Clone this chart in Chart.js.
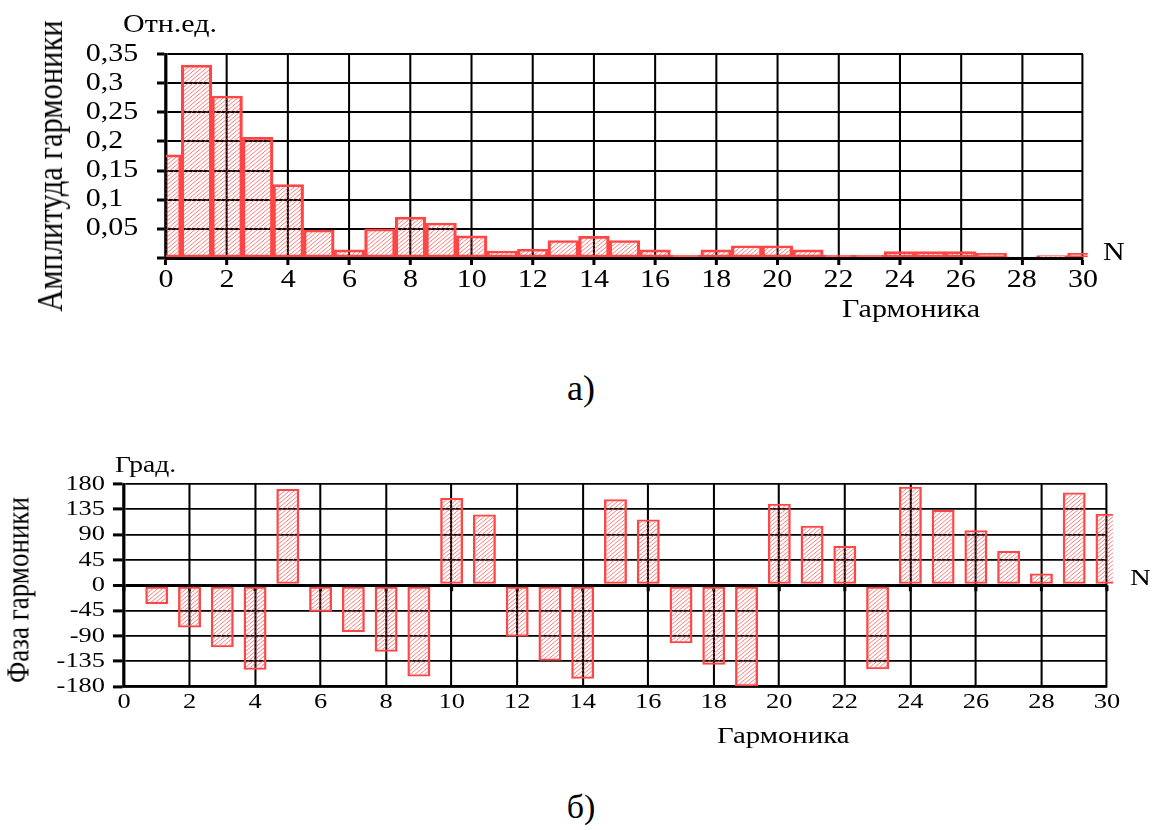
<!DOCTYPE html>
<html><head><meta charset="utf-8">
<script src="https://cdn.jsdelivr.net/npm/chart.js@4"></script>
<style>
html,body{margin:0;padding:0;background:#fff;}
body{width:1157px;height:830px;position:relative;overflow:hidden;font-family:'Liberation Serif','Times New Roman',serif;color:#000;}
canvas{position:absolute;left:0;}
.t{position:absolute;white-space:nowrap;line-height:1;}
</style></head><body>
<canvas id="c1" style="top:0px"></canvas>
<canvas id="c2" style="top:440px"></canvas>
<script>
// ---- data ----
const harmonics = [0,1,2,3,4,5,6,7,8,9,10,11,12,13,14,15,16,17,18,19,20,21,22,23,24,25,26,27,28,29,30];
const amplitude = [0.177,0.331,0.278,0.207,0.126,0.048,0.014,0.050,0.070,0.060,0.038,0.012,0.015,0.030,0.037,0.030,0.014,0.005,0.014,0.021,0.021,0.014,0.005,0.005,0.011,0.011,0.011,0.008,0.002,0.004,0.008];
const phaseHarmonics = [1,2,3,4,5,6,7,8,9,10,11,12,13,14,15,16,17,18,19,20,21,22,23,24,25,26,27,28,29,30];
const phase = [-33,-75,-110,-150,171,-47,-83,-118,-162,155,126,-91,-134,-166,153,117,-103,-141,-179,145,106,70,-149,175,134,98,61,21,165,127];
const harmonicTicks = [0,2,4,6,8,10,12,14,16,18,20,22,24,26,28,30];
const amplitudeTicks = [0,0.05,0.1,0.15,0.2,0.25,0.3,0.35];
const amplitudeTickLabels = ['','0,05','0,1','0,15','0,2','0,25','0,3','0,35'];
const phaseTicks = [-180,-135,-90,-45,0,45,90,135,180];
const phaseTickLabels = ['-180','-135','-90','-45','0','45','90','135','180'];

const FONT = "'Liberation Serif','Times New Roman',serif";
const W = 1157, LW = 964, S = W / LW;
const RED = '#ff4646';

function hatch() {
  const c = document.createElement('canvas'); c.width = c.height = 8;
  const g = c.getContext('2d');
  g.strokeStyle = 'rgba(255,70,70,0.7)'; g.lineWidth = 1;
  g.beginPath();
  for (let k = -8; k <= 16; k += 4) { g.moveTo(k, 8); g.lineTo(k + 8, 0); }
  g.stroke();
  return g.createPattern(c, 'repeat');
}

const stretch = { id: 'stretch', beforeDraw(c) { c.ctx.setTransform(S, 0, 0, 1, 0, 0); } };
const zeroTicks = { id: 'zeroTicks', beforeDatasetsDraw(c) {
  const ctx = c.ctx, x = c.scales.x, y = c.scales.y;
  const y0 = y.getPixelForValue(0);
  ctx.save(); ctx.strokeStyle = '#000'; ctx.lineWidth = 2.5; ctx.beginPath();
  harmonicTicks.forEach(v => { const px = x.getPixelForValue(v); ctx.moveTo(px, y0); ctx.lineTo(px, y0 + 6); });
  ctx.stroke(); ctx.restore();
}};

function makeChart(id, H, config) {
  const cv = document.getElementById(id);
  cv.width = LW; cv.height = H;
  cv.style.width = LW + 'px'; cv.style.height = H + 'px';
  const ch = new Chart(cv, config);
  cv.width = W; cv.style.width = W + 'px';
  ch.draw();
  return ch;
}

const common = { responsive: false, animation: false, events: [], devicePixelRatio: 1,
  plugins: { legend: { display: false }, tooltip: { enabled: false } } };

makeChart('c1', 340, {
  type: 'bar',
  data: { datasets: [{
    data: harmonics.map((n, i) => ({ x: n, y: amplitude[i] })),
    backgroundColor: hatch(), borderColor: RED, borderWidth: 2, borderSkipped: false,
    barPercentage: 1, categoryPercentage: 1, clip: { left: 0, top: 5, right: 4, bottom: 5 }
  }]},
  options: Object.assign({}, common, {
    layout: { padding: { left: 71.4, top: 54, right: 61.7, bottom: 0 } },
    scales: {
      x: { type: 'linear', min: 0, max: 30, offset: false,
        afterBuildTicks(s) { s.ticks = harmonicTicks.map(v => ({ value: v })); },
        afterFit(s) { s.height = 82; },
        grid: { offset: false, color: '#000', lineWidth: 1.7, drawTicks: true, tickLength: 7, tickWidth: 2.5, tickColor: '#000' },
        border: { display: true, color: '#000', width: 3 },
        ticks: { color: '#000', font: { family: FONT, size: 25 }, padding: 0, maxRotation: 0, autoSkip: false,
          callback: (v, i) => String(harmonicTicks[i]) } },
      y: { min: 0, max: 0.35,
        afterBuildTicks(s) { s.ticks = amplitudeTicks.map(v => ({ value: v })); },
        afterFit(s) { s.width = 66.9; },
        grid: { color: '#000', lineWidth: 2, tickLength: 7.5, tickWidth: 3, tickColor: '#000' },
        border: { display: true, color: '#000', width: 2.5 },
        ticks: { color: '#000', font: { family: FONT, size: 25 }, padding: 16.6, autoSkip: false, crossAlign: 'far',
          callback: (v, i) => amplitudeTickLabels[i] } }
    }
  }),
  plugins: [stretch]
});

makeChart('c2', 290, {
  type: 'bar',
  data: { datasets: [{
    data: phaseHarmonics.map((n, i) => ({ x: n, y: phase[i] })),
    backgroundColor: hatch(), borderColor: RED, borderWidth: 2, borderSkipped: false,
    barPercentage: 0.7, categoryPercentage: 1, clip: { left: 0, top: 5, right: 5, bottom: 5 }
  }]},
  options: Object.assign({}, common, {
    layout: { padding: { left: 0, top: 44, right: 41.7, bottom: 0 } },
    scales: {
      x: { type: 'linear', min: 0, max: 30, offset: false,
        afterBuildTicks(s) { s.ticks = harmonicTicks.map(v => ({ value: v })); },
        afterFit(s) { s.height = 43.3; },
        grid: { offset: false, color: '#000', lineWidth: 1.7, drawTicks: false },
        border: { display: true, color: '#000', width: 2.5 },
        ticks: { color: '#000', font: { family: FONT, size: 22 }, padding: 2, maxRotation: 0, autoSkip: false,
          callback: (v, i) => String(harmonicTicks[i]) } },
      y: { min: -180, max: 180,
        afterBuildTicks(s) { s.ticks = phaseTicks.map(v => ({ value: v })); },
        afterFit(s) { s.width = 103.3; },
        grid: { color: '#000', lineWidth: c => (c.tick && c.tick.value === 0 ? 3 : 1.8), tickLength: 9.2, tickWidth: 3, tickColor: '#000' },
        border: { display: true, color: '#000', width: 2.5 },
        ticks: { color: '#000', font: { family: FONT, size: 22 }, padding: 6.6, autoSkip: false,
          callback: (v, i) => phaseTickLabels[i] } }
    }
  }),
  plugins: [stretch, zeroTicks]
});

// ---- text annotations ----
const K = 0.8375;
function addText(str, x, base, size, opt) {
  opt = opt || {};
  const sx = opt.sx === undefined ? S : opt.sx;
  const d = document.createElement('div');
  d.className = 't'; d.textContent = str; d.style.fontSize = size + 'px';
  d.style.transformOrigin = '0 0';
  if (!opt.rotate) {
    d.style.left = x + 'px'; d.style.top = (base - K * size) + 'px';
    d.style.transform = opt.align === 'center' ? `scaleX(${sx}) translateX(-50%)` : `scaleX(${sx})`;
  } else {
    d.style.left = x + 'px'; d.style.top = base + 'px';
    d.style.transform = `scaleX(${sx}) rotate(-90deg) translate(-50%, -${K}em)`;
  }
  document.body.appendChild(d);
}
addText('Отн.ед.', 123, 32, 25);
addText('N', 1103, 260, 25);
addText('Гармоника', 842, 316.5, 25);
addText('а)', 581, 400, 36, { align: 'center', sx: 1 });
addText('Амплитуда гармоники', 62.5, 165.5, 30.5, { rotate: true });
addText('Град.', 115, 472, 23);
addText('N', 1130, 585, 24);
addText('Гармоника', 717, 743, 24);
addText('б)', 581, 818, 34, { align: 'center', sx: 1 });
addText('Фаза гармоники', 28.5, 590, 27, { rotate: true });
</script>
</body></html>
